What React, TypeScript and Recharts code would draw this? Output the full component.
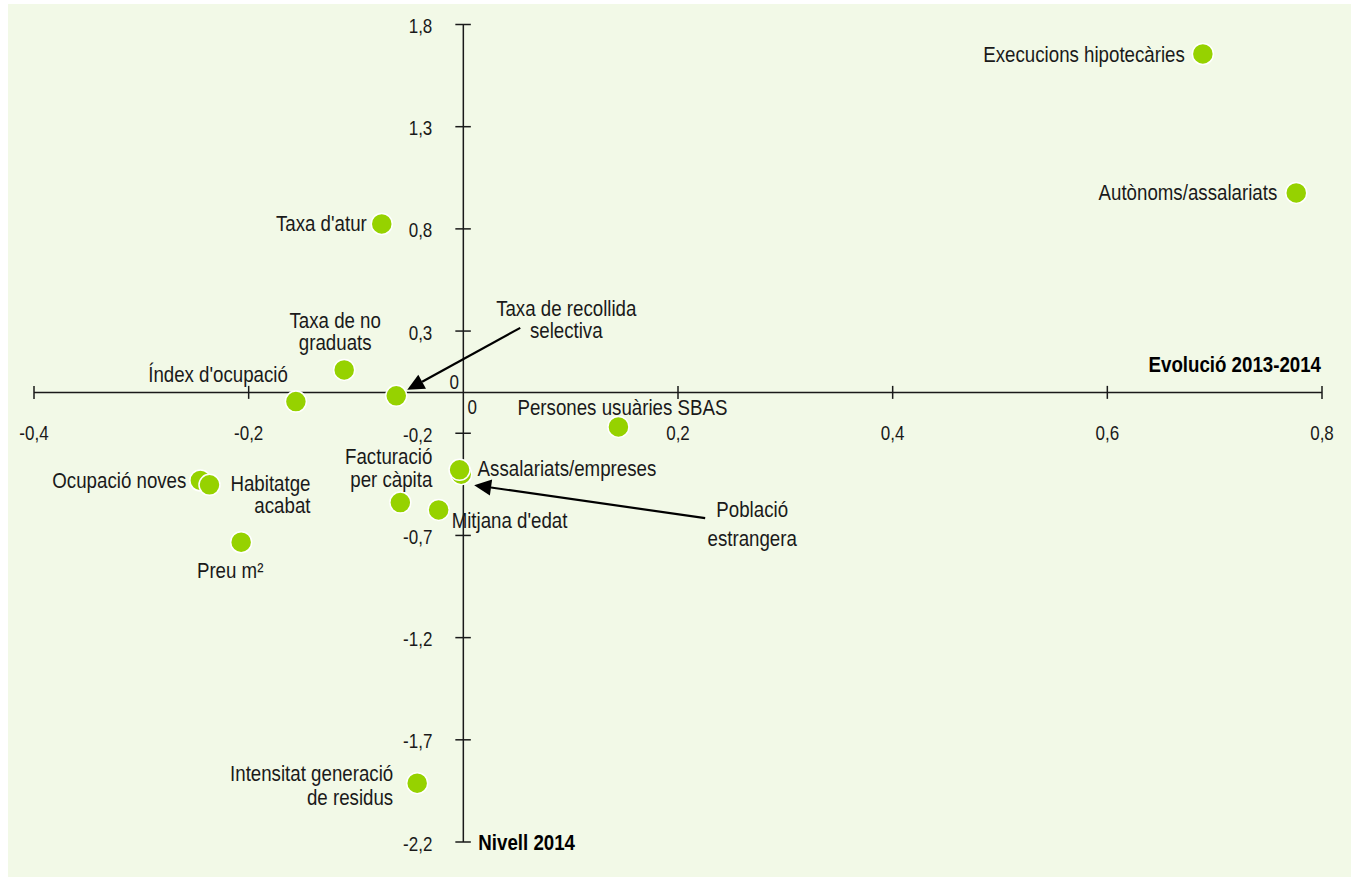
import React from "react";
import { ScatterChart, Scatter, XAxis, YAxis, ReferenceLine } from "recharts";

// ─── Data ────────────────────────────────────────────────────────────────────

const names = [
  "Execucions hipotecàries",
  "Autònoms/assalariats",
  "Taxa d'atur",
  "Taxa de no\ngraduats",
  "Índex d'ocupació",
  "Taxa de recollida\nselectiva",
  "Persones usuàries SBAS",
  "Població\nestrangera",
  "Assalariats/empreses",
  "Facturació\nper càpita",
  "Mitjana d'edat",
  "Ocupació noves",
  "Habitatge\nacabat",
  "Preu m²",
  "Intensitat generació\nde residus",
];

const evolucio = [0.689, 0.776, -0.076, -0.111, -0.156, -0.0625, 0.1445, -0.002, -0.0035, -0.0587, -0.023, -0.245, -0.2365, -0.207, -0.043];
const nivell   = [1.656, 0.976, 0.824, 0.110, -0.045, -0.017, -0.169, -0.400, -0.379, -0.539, -0.575, -0.431, -0.4525, -0.733, -1.912];

const xTickValues = [-0.4, -0.2, 0.2, 0.4, 0.6, 0.8];
const xTickLabels = ["-0,4", "-0,2", "0,2", "0,4", "0,6", "0,8"];
const yTickValues = [1.8, 1.3, 0.8, 0.3, -0.2, -0.7, -1.2, -1.7, -2.2];
const yTickLabels = ["1,8", "1,3", "0,8", "0,3", "-0,2", "-0,7", "-1,2", "-1,7", "-2,2"];

const xAxisTitle = "Evolució 2013-2014";
const yAxisTitle = "Nivell 2014";

// ─── Styling / label placement (pixels, relative to the point) ──────────────

const FONT = '"Liberation Sans", Arial, sans-serif';
const SQUEEZE = 0.85; // condensed look
const INK = "#1a1a1a";
const DOT = "#96d200";
const BG = "#f2f9e7";

type Anchor = "start" | "middle" | "end";
type Layout = { anchor: Anchor; dx: number; dy: number; gap?: number };

const labelLayout: Layout[] = [
  { anchor: "end", dx: -18, dy: 1 },
  { anchor: "end", dx: -19, dy: 0 },
  { anchor: "end", dx: -15, dy: -1 },
  { anchor: "middle", dx: -9, dy: -49, gap: 22 },
  { anchor: "end", dx: -8, dy: -27 },
  { anchor: "middle", dx: 170, dy: -87, gap: 22 },
  { anchor: "middle", dx: 4, dy: -19 },
  { anchor: "middle", dx: 291, dy: 35, gap: 29 },
  { anchor: "start", dx: 18, dy: -1 },
  { anchor: "end", dx: 32, dy: -46, gap: 22.5 },
  { anchor: "start", dx: 13, dy: 11 },
  { anchor: "end", dx: -14, dy: 0 },
  { anchor: "end", dx: 101, dy: -1, gap: 22 },
  { anchor: "middle", dx: -11, dy: 28 },
  { anchor: "end", dx: -24, dy: -10, gap: 24 },
];

// arrows: tail and tip offsets from the point
const arrows: Record<number, { from: [number, number]; to: [number, number] }> = {
  5: { from: [124, -68], to: [11, -6] },
  7: { from: [244, 44], to: [13, 11] },
};

const points = names.map((name, i) => ({ idx: i, name, x: evolucio[i], y: nivell[i] }));
const xTicks = xTickValues.map((v, i) => ({ x: v, y: 0, label: xTickLabels[i] }));
const yTicks = yTickValues.map((v, i) => ({ x: 0, y: v, label: yTickLabels[i] }));
const origin = [{ x: 0, y: 0 }];
const xEnd = [{ x: 0.8, y: 0, label: xAxisTitle }];
const yEnd = [{ x: 0, y: -2.2, label: yAxisTitle }];

// ─── Shapes ──────────────────────────────────────────────────────────────────

function CText({ x, y, anchor = "middle", size = 22, bold = false, gap = 22, text }: {
  x: number; y: number; anchor?: Anchor; size?: number; bold?: boolean; gap?: number; text: string;
}) {
  const lines = text.split("\n");
  return (
    <text
      transform={`translate(${x} ${y}) scale(${SQUEEZE} 1)`}
      textAnchor={anchor}
      dominantBaseline="central"
      fontFamily={FONT}
      fontSize={size}
      fontWeight={bold ? "bold" : "normal"}
      fill={bold ? "#000" : INK}
    >
      {lines.map((l, k) => (
        <tspan key={k} x={0} dy={k === 0 ? 0 : gap}>{l}</tspan>
      ))}
    </text>
  );
}

function Arrow({ x1, y1, x2, y2 }: { x1: number; y1: number; x2: number; y2: number }) {
  const ang = Math.atan2(y2 - y1, x2 - x1);
  const len = 17, half = 8;
  const bx = x2 - len * Math.cos(ang), by = y2 - len * Math.sin(ang);
  const px = -Math.sin(ang) * half, py = Math.cos(ang) * half;
  return (
    <g>
      <line x1={x1} y1={y1} x2={bx} y2={by} stroke="#000" strokeWidth={2.2} />
      <polygon points={`${x2},${y2} ${bx + px},${by + py} ${bx - px},${by - py}`} fill="#000" />
    </g>
  );
}

function PointShape(props: any) {
  const { cx, cy, payload } = props;
  const i = payload.idx;
  const lay = labelLayout[i];
  const arrow = arrows[i];
  return (
    <g>
      <circle cx={cx} cy={cy} r={10.5} fill={DOT} stroke="#fff" strokeWidth={1.5} />
      {arrow && (
        <Arrow x1={cx + arrow.from[0]} y1={cy + arrow.from[1]} x2={cx + arrow.to[0]} y2={cy + arrow.to[1]} />
      )}
      <CText x={cx + lay.dx} y={cy + lay.dy} anchor={lay.anchor} gap={lay.gap ?? 22} text={payload.name} />
    </g>
  );
}

function XTickShape(props: any) {
  const { cx, cy, payload } = props;
  return (
    <g>
      <line x1={cx} y1={cy - 6.5} x2={cx} y2={cy + 6.5} stroke={INK} strokeWidth={1.5} />
      <CText x={cx} y={cy + 40} size={20} text={payload.label} />
    </g>
  );
}

function YTickShape(props: any) {
  const { cx, cy, payload } = props;
  return (
    <g>
      <line x1={cx - 8} y1={cy} x2={cx + 7.5} y2={cy} stroke={INK} strokeWidth={1.5} />
      <CText x={cx - 31} y={cy + 1} anchor="end" size={20} text={payload.label} />
    </g>
  );
}

function OriginShape(props: any) {
  const { cx, cy } = props;
  return (
    <g>
      <CText x={cx + 9} y={cy + 14} size={20} text="0" />
      <CText x={cx - 9} y={cy - 11} size={20} text="0" />
    </g>
  );
}

function XTitleShape(props: any) {
  const { cx, cy, payload } = props;
  return <CText x={cx - 1} y={cy - 28} anchor="end" bold text={payload.label} />;
}

function YTitleShape(props: any) {
  const { cx, cy, payload } = props;
  return <CText x={cx + 15} y={cy} anchor="start" bold text={payload.label} />;
}

// ─── Chart ───────────────────────────────────────────────────────────────────

export default function App() {
  return (
    <div style={{ position: "absolute", left: 0, top: 0, width: 1351, height: 878, background: "#fff" }}>
      <div style={{ position: "absolute", left: 8, top: 4, width: 1343, height: 873, background: BG }} />
      <div style={{ position: "absolute", left: 0, top: 0 }}>
        <ScatterChart width={1351} height={878} margin={{ top: 24.5, right: 29, bottom: 36, left: 34 }}>
          <XAxis type="number" dataKey="x" domain={[-0.4, 0.8]} hide />
          <YAxis type="number" dataKey="y" domain={[-2.2, 1.8]} hide />
          <ReferenceLine y={0} stroke={INK} strokeWidth={1.5} />
          <ReferenceLine x={0} stroke={INK} strokeWidth={1.5} />
          <Scatter data={xTicks} shape={(p: any) => <XTickShape {...p} />} isAnimationActive={false} />
          <Scatter data={yTicks} shape={(p: any) => <YTickShape {...p} />} isAnimationActive={false} />
          <Scatter data={origin} shape={(p: any) => <OriginShape {...p} />} isAnimationActive={false} />
          <Scatter data={xEnd} shape={(p: any) => <XTitleShape {...p} />} isAnimationActive={false} />
          <Scatter data={yEnd} shape={(p: any) => <YTitleShape {...p} />} isAnimationActive={false} />
          <Scatter data={points} shape={(p: any) => <PointShape {...p} />} isAnimationActive={false} />
        </ScatterChart>
      </div>
    </div>
  );
}
